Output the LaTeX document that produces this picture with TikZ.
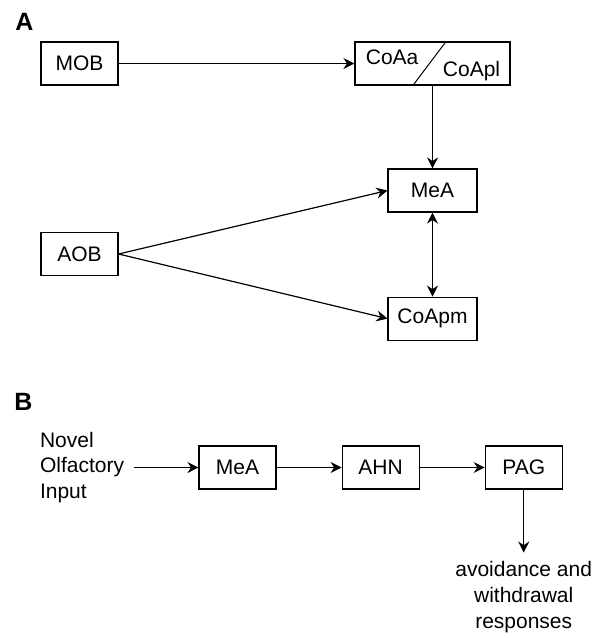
\documentclass[tikz,border=0pt]{standalone}
\usepackage{fontspec}
\setmainfont{Liberation Sans}
\usetikzlibrary{positioning}
\usetikzlibrary{calc}
\usetikzlibrary{arrows.meta}

\begin{document}
\begin{tikzpicture}[x=0.5pt, y=-0.5pt, font=\fontsize{10.5}{12.6}\selectfont, >={Stealth[length=5.5pt, width=5.5pt, inset=1.8pt]}, area/.style={draw, line width=0.55pt, minimum width=38.5pt, minimum height=21.5pt, inner sep=0pt}, link/.style={line width=0.6pt, ->}, panel/.style={font=\fontsize{12.5}{14}\selectfont\bfseries}]
    \useasboundingbox (0,0) rectangle (599,638);

    \node[panel] (la) at (24.5,21.5) {A};

    \node[area] (mob) at (79.5,63.5) {MOB};
    \node[area, minimum width=77.5pt] (coa) at (432.5,63.5) {};
    \node[area, minimum width=44.5pt] (mea) at (432.5,190.5) {MeA};
    \node[area, minimum width=44.5pt, below=42pt of mea] (coapm) {CoApm};
    \node[area] (aob) at (79.5,254) {AOB};

    \node[anchor=base west, inner sep=0pt] (coaa) at ($(coa.north west)+(11,23)$) {CoAa};
    \node[anchor=base east, inner sep=0pt] (coapl) at ($(coa.south east)+(-10,-9)$) {CoApl};
    \draw[line width=0.5pt] ($(coa.north west)!0.587!(coa.north east)$) -- ($(coa.south west)!0.374!(coa.south east)$);

    \draw[link] (mob) -- (coa);
    \draw[link] (coa) -- (mea);
    \draw[link, <->] (mea) -- (coapm);
    \draw[link] (aob.east) -- (mea.west);
    \draw[link] (aob.east) -- (coapm.west);

    \node[panel] (lb) at (23.5,401.5) {B};

    \node[area] (meab) at (237.5,467.5) {MeA};
    \node[area, right=32.5pt of meab] (ahn) {AHN};
    \node[area, right=32.5pt of ahn] (pag) {PAG};
    \node[left=32pt of meab, align=left, inner sep=5pt] (input) {Novel\\Olfactory\\Input};
    \node[below=31.5pt of pag, align=center, inner sep=4pt, font=\fontsize{10.5}{13}\selectfont] (resp) {avoidance and\\withdrawal\\responses};

    \draw[link] (input) -- (meab);
    \draw[link] (meab) -- (ahn);
    \draw[link] (ahn) -- (pag);
    \draw[link] (pag) -- (resp);
\end{tikzpicture}
\end{document}
